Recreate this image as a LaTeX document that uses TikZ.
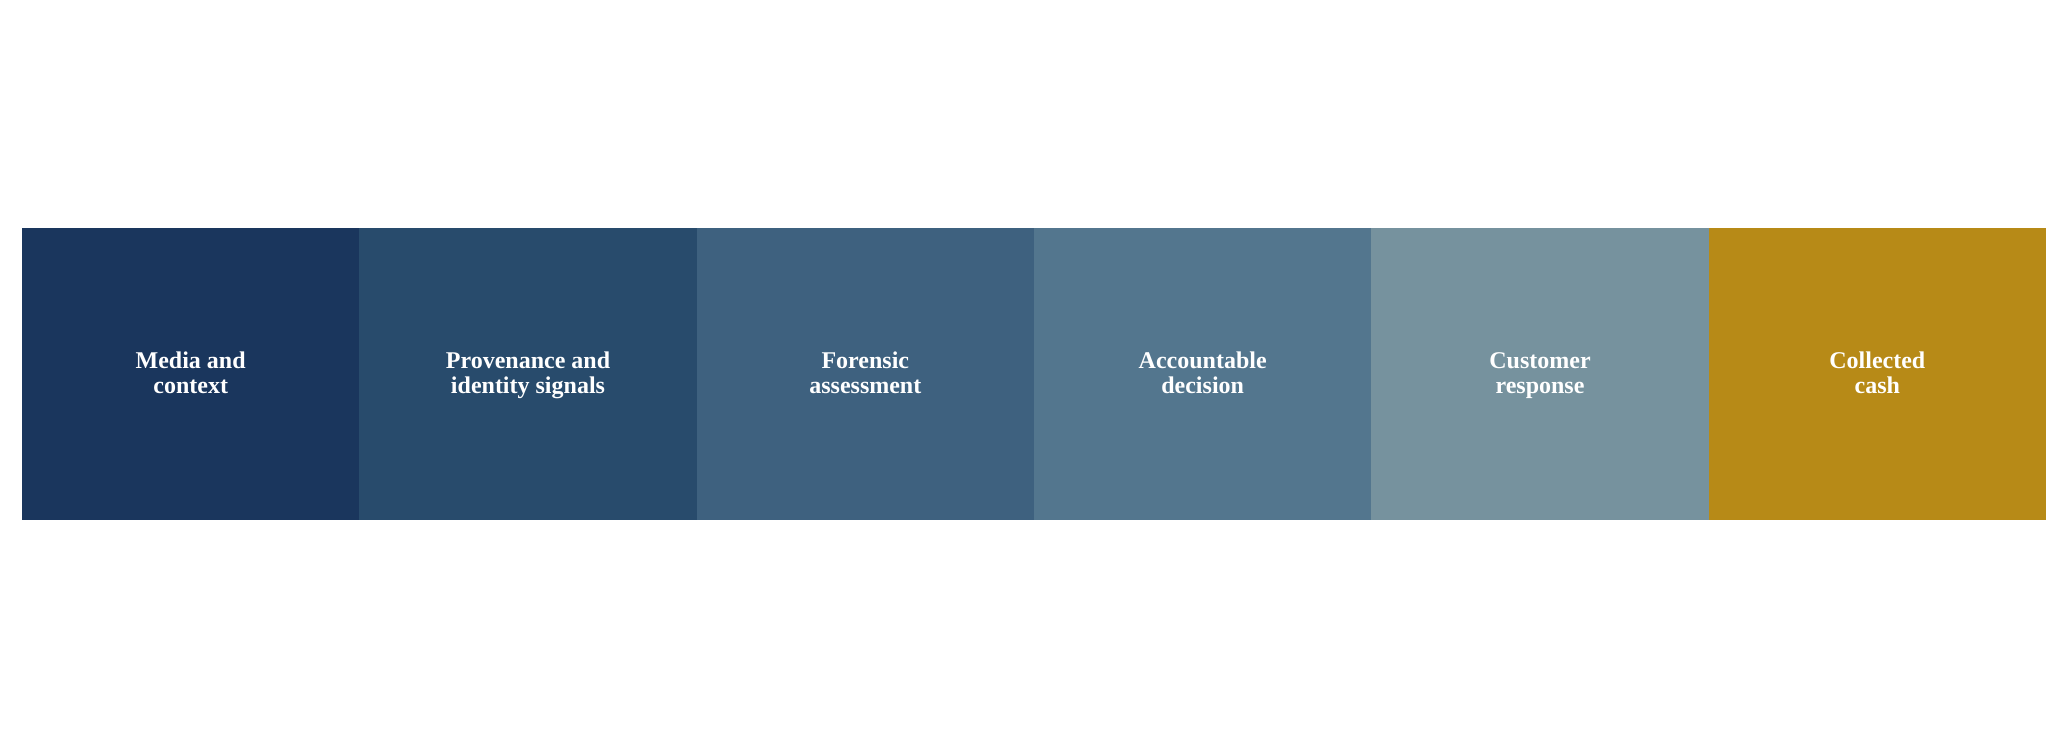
\documentclass[tikz,border=0pt]{standalone}
\usepackage{fontspec}
\setmainfont{Liberation Serif}
\definecolor{cA}{HTML}{1A365D}
\definecolor{cB}{HTML}{284B6C}
\definecolor{cC}{HTML}{3E617F}
\definecolor{cD}{HTML}{53768E}
\definecolor{cE}{HTML}{76929E}
\definecolor{cF}{HTML}{B78A17}
\tikzset{
  stage/.style={fill=#1, draw=none, inner sep=0pt, minimum width=337.33*0.5pt, minimum height=292*0.5pt,
    text=white, align=center, font=\bfseries\fontsize{12pt}{12.5pt}\selectfont},
  lbl/.style={text=white, align=center, inner sep=0pt, font=\bfseries\fontsize{12pt}{12.5pt}\selectfont},
}
\begin{document}
\begin{tikzpicture}[x=0.5pt,y=-0.5pt]
\useasboundingbox (0,0) rectangle (2068,748);
\fill[white] (0,0) rectangle (2068,748);
\node[stage=cA] (s1) at (190.67,374) {};
\node[stage=cB] (s2) at (528.00,374) {};
\node[stage=cC] (s3) at (865.33,374) {};
\node[stage=cD] (s4) at (1202.67,374) {};
\node[stage=cE] (s5) at (1540.00,374) {};
\node[stage=cF] (s6) at (1877.33,374) {};
\node[lbl] (t1) at ([yshift=-1pt]s1.center) {\strut Media and\\\strut context};
\node[lbl] (t2) at ([yshift=-1pt]s2.center) {\strut Provenance and\\\strut identity signals};
\node[lbl] (t3) at ([yshift=-1pt]s3.center) {\strut Forensic\\\strut assessment};
\node[lbl] (t4) at ([yshift=-1pt]s4.center) {\strut Accountable\\\strut decision};
\node[lbl] (t5) at ([yshift=-1pt]s5.center) {\strut Customer\\\strut response};
\node[lbl] (t6) at ([yshift=-1pt]s6.center) {\strut Collected\\\strut cash};
\end{tikzpicture}
\end{document}
